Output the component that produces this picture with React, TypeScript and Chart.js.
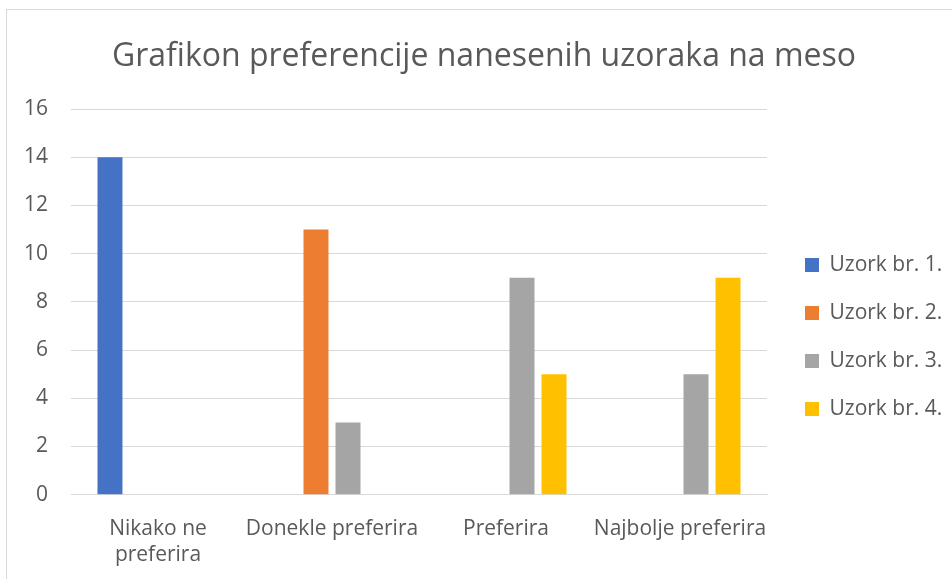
import React, { useEffect, useRef } from "react";
import { Chart, registerables } from "chart.js";
Chart.register(...registerables);

const chartTitle = "Grafikon preferencije nanesenih uzoraka na meso";
const categories: (string | string[])[] = [["Nikako ne", "preferira"], "Donekle preferira", "Preferira", "Najbolje preferira"];
const seriesNames = ["Uzork br. 1.", "Uzork br. 2.", "Uzork br. 3.", "Uzork br. 4."];
const uzorak1 = [14, 0, 0, 0];
const uzorak2 = [0, 11, 0, 0];
const uzorak3 = [0, 3, 9, 5];
const uzorak4 = [0, 0, 5, 9];
const seriesColors = ["#4472C4", "#ED7D31", "#A5A5A5", "#FFC000"];
const yMin = 0;
const yMax = 16;
const yStep = 2;

const FONT = "'Open Sans', 'Noto Sans', sans-serif";
const TEXT = "#595959";
const GRID = "#d9d9d9";

const legendShift = {
  id: "legendShift",
  afterLayout(chart: any) {
    const l = chart.legend;
    if (l) {
      l.left += 11;
      l.right += 11;
    }
  },
};

export default function App() {
  const ref = useRef<HTMLCanvasElement>(null);
  useEffect(() => {
    const values = [uzorak1, uzorak2, uzorak3, uzorak4];
    const chart = new Chart(ref.current!, {
      type: "bar",
      data: {
        labels: categories,
        datasets: values.map((v, i) => ({
          label: seriesNames[i],
          data: v,
          backgroundColor: seriesColors[i],
          borderWidth: 0,
          categoryPercentage: 0.736,
          barPercentage: 0.78,
        })),
      },
      plugins: [legendShift],
      options: {
        responsive: false,
        animation: false,
        layout: { padding: { top: 0, left: 18, right: 2, bottom: 0 } },
        plugins: {
          title: {
            display: true,
            text: chartTitle,
            color: TEXT,
            font: { family: FONT, size: 32, weight: "normal", lineHeight: 1.2 },
            padding: { top: 38, bottom: 32.6 },
          },
          legend: {
            position: "right",
            title: {
              display: true,
              text: "",
              padding: { top: 85, bottom: 0 },
              font: { family: FONT, size: 10, lineHeight: 1 },
            },
            labels: {
              boxWidth: 14,
              boxHeight: 14,
              padding: 27,
              color: TEXT,
              font: { family: FONT, size: 21 },
            },
          },
          tooltip: { enabled: false },
        },
        scales: {
          x: {
            offset: true,
            grid: { display: false, drawTicks: false },
            border: { display: true, color: GRID },
            ticks: {
              color: TEXT,
              font: { family: FONT, size: 21, lineHeight: 1.24 },
              padding: 21,
              maxRotation: 0,
              autoSkip: false,
            },
            afterFit: (s: any) => {
              s.paddingRight = 185;
              s.height = 84.3;
            },
          },
          y: {
            min: yMin,
            max: yMax,
            ticks: { stepSize: yStep, padding: 23, color: TEXT, font: { family: FONT, size: 21 } },
            grid: { color: GRID, drawTicks: false },
            border: { display: false },
            afterFit: (s: any) => {
              s.width = 53;
            },
          },
        },
      },
    });
    return () => chart.destroy();
  }, []);

  return (
    <div style={{ position: "fixed", left: 0, top: 0, width: 952, height: 579, overflow: "hidden", background: "#fff" }}>
      <div
        style={{
          position: "absolute",
          left: 6,
          top: 9,
          width: 1000,
          height: 1000,
          borderLeft: `1px solid ${GRID}`,
          borderTop: `1px solid ${GRID}`,
        }}
      />
      <canvas ref={ref} width={952} height={579} style={{ position: "absolute", left: 0, top: 0 }} />
    </div>
  );
}
